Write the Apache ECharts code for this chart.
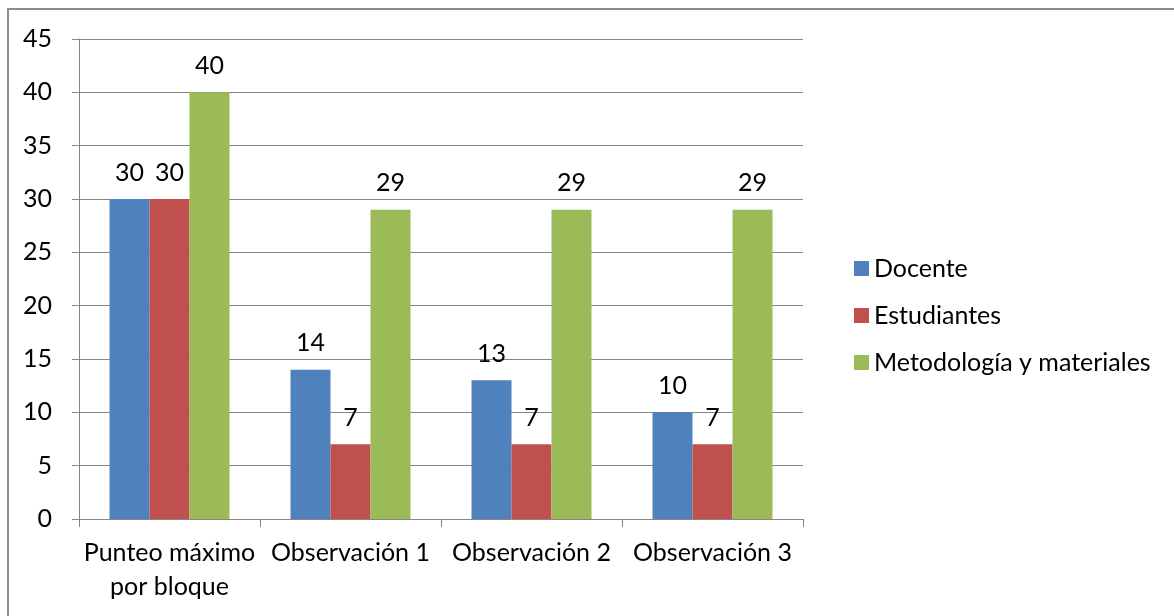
<!DOCTYPE html>
<html>
<head>
<meta charset="utf-8">
<script src="https://cdn.jsdelivr.net/npm/echarts@6/dist/echarts.min.js"></script>
<style>
  html, body { margin: 0; padding: 0; background: #fff; }
  #frame {
    position: absolute; left: 7px; top: 8px; width: 1180px; height: 620px;
    border: 2px solid #8c8c8c; box-sizing: border-box;
  }
  #chart { position: absolute; left: 0; top: 0; width: 1174px; height: 616px; }
</style>
</head>
<body>
<div id="frame"></div>
<div id="chart"></div>
<script>
const categories = ['Punteo máximo\npor bloque', 'Observación 1', 'Observación 2', 'Observación 3']
const docente = [30, 14, 13, 10]
const estudiantes = [30, 7, 7, 7]
const metodologia = [40, 29, 29, 29]

const chart = echarts.init(document.getElementById('chart'))
const font = 'Lato, "Open Sans", sans-serif'

const makeSeries = (name, color, data) => ({
  name,
  type: 'bar',
  data,
  barWidth: 40,
  barGap: '0%',
  itemStyle: { color },
  label: {
    show: true,
    position: 'top',
    distance: 14,
    color: '#000',
    fontSize: 25,
    fontFamily: font
  }
})

chart.setOption({
  animation: false,
  textStyle: { fontFamily: font },
  grid: { left: 79, right: 371, top: 39, bottom: 97 },
  legend: {
    orient: 'vertical',
    left: 849,
    top: 251,
    itemWidth: 15,
    itemHeight: 15,
    itemGap: 22,
    icon: 'rect',
    textStyle: { fontSize: 25, color: '#000', fontFamily: font, padding: [0, 0, 0, 0] }
  },
  xAxis: {
    type: 'category',
    data: categories,
    axisLine: { lineStyle: { color: '#868686', width: 1 } },
    axisTick: { show: true, length: 8, lineStyle: { color: '#868686' } },
    axisLabel: { color: '#000', fontSize: 25, lineHeight: 34, margin: 17, fontFamily: font, interval: 0 }
  },
  yAxis: {
    type: 'value',
    min: 0,
    max: 45,
    interval: 5,
    axisLine: { show: true, lineStyle: { color: '#868686', width: 1 } },
    axisTick: { show: true, length: 7, inside: false, lineStyle: { color: '#868686' } },
    axisLabel: { color: '#000', fontSize: 25, margin: 27, fontFamily: font },
    splitLine: { lineStyle: { color: '#868686', width: 1 } }
  },
  series: [
    makeSeries('Docente', '#4f81bd', docente),
    makeSeries('Estudiantes', '#c0504d', estudiantes),
    makeSeries('Metodología y materiales', '#9bbb59', metodologia)
  ]
})
</script>
</body>
</html>
